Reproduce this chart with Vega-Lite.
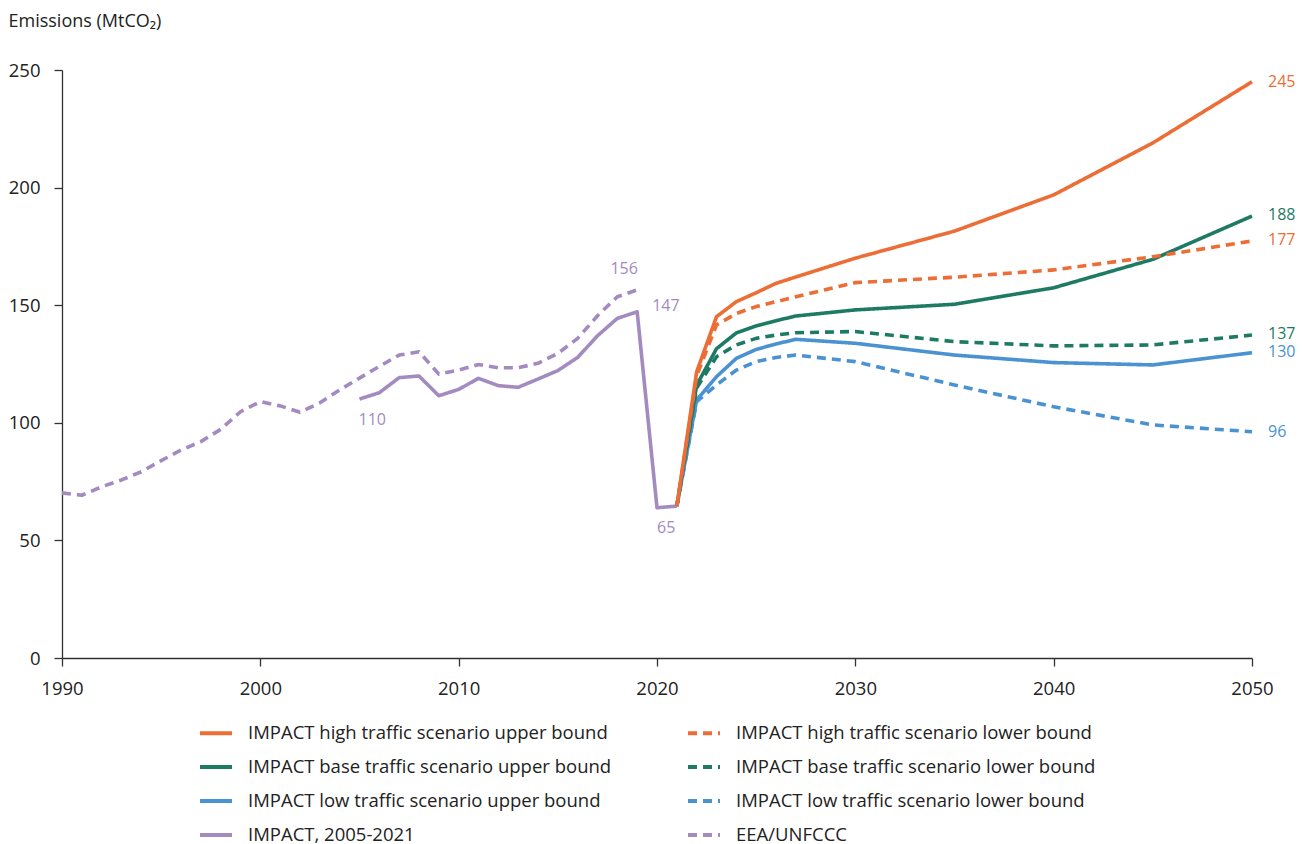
{
  "$schema": "https://vega.github.io/schema/vega-lite/v6.json",
  "width": 1190,
  "height": 588,
  "autosize": "none",
  "padding": {"left": 62, "top": 70, "right": 52, "bottom": 186},
  "background": "white",
  "config": {
    "font": "Open Sans",
    "view": {"stroke": null},
    "axis": {"grid": false, "domainColor": "#333333", "tickColor": "#333333", "labelColor": "#222222", "labelFontSize": 18.5, "labelFont": "Open Sans", "domainWidth": 1.3, "tickWidth": 1.3}
  },
  "datasets": {
    "lines": [
      {"series": "EEA/UNFCCC", "year": 1990, "value": 70.2},
      {"series": "EEA/UNFCCC", "year": 1991, "value": 69.2},
      {"series": "EEA/UNFCCC", "year": 1992, "value": 72.8},
      {"series": "EEA/UNFCCC", "year": 1993, "value": 75.7},
      {"series": "EEA/UNFCCC", "year": 1994, "value": 79.2},
      {"series": "EEA/UNFCCC", "year": 1995, "value": 83.9},
      {"series": "EEA/UNFCCC", "year": 1996, "value": 88.4},
      {"series": "EEA/UNFCCC", "year": 1997, "value": 92},
      {"series": "EEA/UNFCCC", "year": 1998, "value": 97.2},
      {"series": "EEA/UNFCCC", "year": 1999, "value": 104.7},
      {"series": "EEA/UNFCCC", "year": 2000, "value": 109},
      {"series": "EEA/UNFCCC", "year": 2001, "value": 107.2},
      {"series": "EEA/UNFCCC", "year": 2002, "value": 104.5},
      {"series": "EEA/UNFCCC", "year": 2003, "value": 108.5},
      {"series": "EEA/UNFCCC", "year": 2004, "value": 114},
      {"series": "EEA/UNFCCC", "year": 2005, "value": 119},
      {"series": "EEA/UNFCCC", "year": 2006, "value": 124},
      {"series": "EEA/UNFCCC", "year": 2007, "value": 128.8},
      {"series": "EEA/UNFCCC", "year": 2008, "value": 130.2},
      {"series": "EEA/UNFCCC", "year": 2009, "value": 120.7},
      {"series": "EEA/UNFCCC", "year": 2010, "value": 122.4},
      {"series": "EEA/UNFCCC", "year": 2011, "value": 124.8},
      {"series": "EEA/UNFCCC", "year": 2012, "value": 123.4},
      {"series": "EEA/UNFCCC", "year": 2013, "value": 123.4},
      {"series": "EEA/UNFCCC", "year": 2014, "value": 125.3},
      {"series": "EEA/UNFCCC", "year": 2015, "value": 129.5},
      {"series": "EEA/UNFCCC", "year": 2016, "value": 135.9},
      {"series": "EEA/UNFCCC", "year": 2017, "value": 145.5},
      {"series": "EEA/UNFCCC", "year": 2018, "value": 153.6},
      {"series": "EEA/UNFCCC", "year": 2019, "value": 156.5},
      {"series": "IMPACT, 2005-2021", "year": 2005, "value": 110.1},
      {"series": "IMPACT, 2005-2021", "year": 2006, "value": 112.8},
      {"series": "IMPACT, 2005-2021", "year": 2007, "value": 119.2},
      {"series": "IMPACT, 2005-2021", "year": 2008, "value": 119.9},
      {"series": "IMPACT, 2005-2021", "year": 2009, "value": 111.5},
      {"series": "IMPACT, 2005-2021", "year": 2010, "value": 114.2},
      {"series": "IMPACT, 2005-2021", "year": 2011, "value": 118.9},
      {"series": "IMPACT, 2005-2021", "year": 2012, "value": 115.8},
      {"series": "IMPACT, 2005-2021", "year": 2013, "value": 115.1},
      {"series": "IMPACT, 2005-2021", "year": 2014, "value": 118.6},
      {"series": "IMPACT, 2005-2021", "year": 2015, "value": 122.2},
      {"series": "IMPACT, 2005-2021", "year": 2016, "value": 127.8},
      {"series": "IMPACT, 2005-2021", "year": 2017, "value": 137},
      {"series": "IMPACT, 2005-2021", "year": 2018, "value": 144.4},
      {"series": "IMPACT, 2005-2021", "year": 2019, "value": 147.2},
      {"series": "IMPACT, 2005-2021", "year": 2020, "value": 63.9},
      {"series": "IMPACT, 2005-2021", "year": 2021, "value": 64.6},
      {"series": "IMPACT low traffic scenario lower bound", "year": 2021, "value": 64.6},
      {"series": "IMPACT low traffic scenario lower bound", "year": 2022, "value": 109},
      {"series": "IMPACT low traffic scenario lower bound", "year": 2023, "value": 116.1},
      {"series": "IMPACT low traffic scenario lower bound", "year": 2024, "value": 122.4},
      {"series": "IMPACT low traffic scenario lower bound", "year": 2025, "value": 126},
      {"series": "IMPACT low traffic scenario lower bound", "year": 2026, "value": 127.8},
      {"series": "IMPACT low traffic scenario lower bound", "year": 2027, "value": 128.8},
      {"series": "IMPACT low traffic scenario lower bound", "year": 2030, "value": 126},
      {"series": "IMPACT low traffic scenario lower bound", "year": 2035, "value": 116.1},
      {"series": "IMPACT low traffic scenario lower bound", "year": 2040, "value": 106.8},
      {"series": "IMPACT low traffic scenario lower bound", "year": 2045, "value": 99.1},
      {"series": "IMPACT low traffic scenario lower bound", "year": 2050, "value": 96.2},
      {"series": "IMPACT low traffic scenario upper bound", "year": 2021, "value": 64.6},
      {"series": "IMPACT low traffic scenario upper bound", "year": 2022, "value": 109.7},
      {"series": "IMPACT low traffic scenario upper bound", "year": 2023, "value": 119.6},
      {"series": "IMPACT low traffic scenario upper bound", "year": 2024, "value": 127.4},
      {"series": "IMPACT low traffic scenario upper bound", "year": 2025, "value": 131.2},
      {"series": "IMPACT low traffic scenario upper bound", "year": 2026, "value": 133.5},
      {"series": "IMPACT low traffic scenario upper bound", "year": 2027, "value": 135.5},
      {"series": "IMPACT low traffic scenario upper bound", "year": 2030, "value": 133.8},
      {"series": "IMPACT low traffic scenario upper bound", "year": 2035, "value": 128.8},
      {"series": "IMPACT low traffic scenario upper bound", "year": 2040, "value": 125.6},
      {"series": "IMPACT low traffic scenario upper bound", "year": 2045, "value": 124.6},
      {"series": "IMPACT low traffic scenario upper bound", "year": 2050, "value": 129.8},
      {"series": "IMPACT  base traffic scenario lower bound", "year": 2021, "value": 64.6},
      {"series": "IMPACT  base traffic scenario lower bound", "year": 2022, "value": 114.8},
      {"series": "IMPACT  base traffic scenario lower bound", "year": 2023, "value": 128.1},
      {"series": "IMPACT  base traffic scenario lower bound", "year": 2024, "value": 133.1},
      {"series": "IMPACT  base traffic scenario lower bound", "year": 2025, "value": 135.9},
      {"series": "IMPACT  base traffic scenario lower bound", "year": 2026, "value": 137.3},
      {"series": "IMPACT  base traffic scenario lower bound", "year": 2027, "value": 138.3},
      {"series": "IMPACT  base traffic scenario lower bound", "year": 2030, "value": 138.8},
      {"series": "IMPACT  base traffic scenario lower bound", "year": 2035, "value": 134.5},
      {"series": "IMPACT  base traffic scenario lower bound", "year": 2040, "value": 132.7},
      {"series": "IMPACT  base traffic scenario lower bound", "year": 2045, "value": 133.1},
      {"series": "IMPACT  base traffic scenario lower bound", "year": 2050, "value": 137.3},
      {"series": "IMPACT base traffic scenario upper bound", "year": 2021, "value": 64.6},
      {"series": "IMPACT base traffic scenario upper bound", "year": 2022, "value": 116},
      {"series": "IMPACT base traffic scenario upper bound", "year": 2023, "value": 131.5},
      {"series": "IMPACT base traffic scenario upper bound", "year": 2024, "value": 138.2},
      {"series": "IMPACT base traffic scenario upper bound", "year": 2025, "value": 141.2},
      {"series": "IMPACT base traffic scenario upper bound", "year": 2026, "value": 143.4},
      {"series": "IMPACT base traffic scenario upper bound", "year": 2027, "value": 145.4},
      {"series": "IMPACT base traffic scenario upper bound", "year": 2030, "value": 148},
      {"series": "IMPACT base traffic scenario upper bound", "year": 2035, "value": 150.4},
      {"series": "IMPACT base traffic scenario upper bound", "year": 2040, "value": 157.4},
      {"series": "IMPACT base traffic scenario upper bound", "year": 2045, "value": 169.5},
      {"series": "IMPACT base traffic scenario upper bound", "year": 2050, "value": 187.9},
      {"series": "IMPACT high traffic scenario lower bound", "year": 2021, "value": 64.6},
      {"series": "IMPACT high traffic scenario lower bound", "year": 2022, "value": 120},
      {"series": "IMPACT high traffic scenario lower bound", "year": 2023, "value": 141.6},
      {"series": "IMPACT high traffic scenario lower bound", "year": 2024, "value": 146.5},
      {"series": "IMPACT high traffic scenario lower bound", "year": 2025, "value": 149.4},
      {"series": "IMPACT high traffic scenario lower bound", "year": 2026, "value": 151.5},
      {"series": "IMPACT high traffic scenario lower bound", "year": 2027, "value": 153.6},
      {"series": "IMPACT high traffic scenario lower bound", "year": 2030, "value": 159.6},
      {"series": "IMPACT high traffic scenario lower bound", "year": 2035, "value": 161.9},
      {"series": "IMPACT high traffic scenario lower bound", "year": 2040, "value": 165},
      {"series": "IMPACT high traffic scenario lower bound", "year": 2045, "value": 170.6},
      {"series": "IMPACT high traffic scenario lower bound", "year": 2050, "value": 177.3},
      {"series": "IMPACT high traffic scenario upper bound", "year": 2021, "value": 64.6},
      {"series": "IMPACT high traffic scenario upper bound", "year": 2022, "value": 121.7},
      {"series": "IMPACT high traffic scenario upper bound", "year": 2023, "value": 145.1},
      {"series": "IMPACT high traffic scenario upper bound", "year": 2024, "value": 151.5},
      {"series": "IMPACT high traffic scenario upper bound", "year": 2025, "value": 155.3},
      {"series": "IMPACT high traffic scenario upper bound", "year": 2026, "value": 159.3},
      {"series": "IMPACT high traffic scenario upper bound", "year": 2027, "value": 162},
      {"series": "IMPACT high traffic scenario upper bound", "year": 2030, "value": 170},
      {"series": "IMPACT high traffic scenario upper bound", "year": 2035, "value": 181.5},
      {"series": "IMPACT high traffic scenario upper bound", "year": 2040, "value": 196.9},
      {"series": "IMPACT high traffic scenario upper bound", "year": 2045, "value": 219},
      {"series": "IMPACT high traffic scenario upper bound", "year": 2050, "value": 245}
    ],
    "endLabels": [
      {"series": "IMPACT high traffic scenario upper bound", "year": 2050, "value": 245, "label": "245"},
      {"series": "IMPACT base traffic scenario upper bound", "year": 2050, "value": 188.4, "label": "188"},
      {"series": "IMPACT high traffic scenario lower bound", "year": 2050, "value": 177.8, "label": "177"},
      {"series": "IMPACT  base traffic scenario lower bound", "year": 2050, "value": 137.8, "label": "137"},
      {"series": "IMPACT low traffic scenario upper bound", "year": 2050, "value": 130, "label": "130"},
      {"series": "IMPACT low traffic scenario lower bound", "year": 2050, "value": 96, "label": "96"}
    ],
    "histLabels": [
      {"kind": "start", "year": 2005, "value": 110.1, "label": "110"},
      {"kind": "peakEEA", "year": 2019, "value": 156.5, "label": "156"},
      {"kind": "peakIMPACT", "year": 2019, "value": 147.2, "label": "147"},
      {"kind": "low", "year": 2020, "value": 63.9, "label": "65"}
    ]
  },
  "layer": [
    {
      "data": {"name": "lines"},
      "mark": {"type": "line", "strokeWidth": 3.6, "strokeJoin": "round"},
      "encoding": {
        "x": {"field": "year", "type": "quantitative", "scale": {"domain": [1990, 2050], "nice": false, "zero": false},
          "axis": {"title": null, "values": [1990, 2000, 2010, 2020, 2030, 2040, 2050], "format": "d", "tickSize": 8, "labelPadding": 13, "labelFlush": false}},
        "y": {"field": "value", "type": "quantitative", "scale": {"domain": [0, 250], "nice": false},
          "axis": {"title": "Emissions (MtCO₂)", "titleAngle": 0, "titleAlign": "left", "titleBaseline": "alphabetic", "titleX": -54, "titleY": -44, "titleFontSize": 18, "titleFontWeight": "normal", "titleColor": "#222222", "titleFont": "Open Sans", "values": [0, 50, 100, 150, 200, 250], "tickSize": 8, "labelPadding": 14, "labelFlush": false}},
        "color": {"field": "series", "type": "nominal",
          "scale": {"domain": ["IMPACT high traffic scenario upper bound", "IMPACT base traffic scenario upper bound", "IMPACT low traffic scenario upper bound", "IMPACT, 2005-2021", "IMPACT high traffic scenario lower bound", "IMPACT  base traffic scenario lower bound", "IMPACT low traffic scenario lower bound", "EEA/UNFCCC"],
            "range": ["#EC6D35", "#1E7B63", "#4A92D2", "#A38BC0", "#EC6D35", "#1E7B63", "#4A92D2", "#A38BC0"]},
          "legend": {"title": null, "orient": "none", "legendX": 136, "legendY": 645, "columns": 2, "columnPadding": 68, "rowPadding": 6, "padding": 0,
            "symbolType": "stroke", "symbolSize": 1024, "symbolStrokeWidth": 4, "labelFontSize": 18.5, "labelColor": "#222222", "labelFont": "Open Sans", "labelOffset": 14, "labelLimit": 600}},
        "strokeDash": {"field": "series", "type": "nominal",
          "scale": {"domain": ["IMPACT high traffic scenario upper bound", "IMPACT base traffic scenario upper bound", "IMPACT low traffic scenario upper bound", "IMPACT, 2005-2021", "IMPACT high traffic scenario lower bound", "IMPACT  base traffic scenario lower bound", "IMPACT low traffic scenario lower bound", "EEA/UNFCCC"],
            "range": [[1, 0], [1, 0], [1, 0], [1, 0], [9, 6], [9, 6], [9, 6], [9, 6]]},
          "legend": {"title": null, "orient": "none", "legendX": 136, "legendY": 645, "columns": 2, "columnPadding": 68, "rowPadding": 6, "padding": 0,
            "symbolType": "stroke", "symbolSize": 1024, "symbolStrokeWidth": 4, "labelFontSize": 18.5, "labelColor": "#222222", "labelFont": "Open Sans", "labelOffset": 14, "labelLimit": 600}},
        "order": {"field": "year", "type": "quantitative"}
      }
    },
    {
      "data": {"name": "endLabels"},
      "mark": {"type": "text", "align": "left", "baseline": "middle", "dx": 16, "fontSize": 16, "font": "Open Sans"},
      "encoding": {
        "x": {"field": "year", "type": "quantitative"},
        "y": {"field": "value", "type": "quantitative"},
        "text": {"field": "label"},
        "color": {"field": "series", "type": "nominal", "legend": null}
      }
    },
    {
      "data": {"name": "histLabels"},
      "transform": [{"filter": "datum.kind == 'start'"}],
      "mark": {"type": "text", "align": "left", "baseline": "middle", "dx": -1, "dy": 21, "fontSize": 16, "font": "Open Sans", "color": "#A38BC0"},
      "encoding": {"x": {"field": "year", "type": "quantitative"}, "y": {"field": "value", "type": "quantitative"}, "text": {"field": "label"}}
    },
    {
      "data": {"name": "histLabels"},
      "transform": [{"filter": "datum.kind == 'peakEEA'"}],
      "mark": {"type": "text", "align": "center", "baseline": "middle", "dx": -13, "dy": -21, "fontSize": 16, "font": "Open Sans", "color": "#A38BC0"},
      "encoding": {"x": {"field": "year", "type": "quantitative"}, "y": {"field": "value", "type": "quantitative"}, "text": {"field": "label"}}
    },
    {
      "data": {"name": "histLabels"},
      "transform": [{"filter": "datum.kind == 'peakIMPACT'"}],
      "mark": {"type": "text", "align": "left", "baseline": "middle", "dx": 15, "dy": -6, "fontSize": 16, "font": "Open Sans", "color": "#A38BC0"},
      "encoding": {"x": {"field": "year", "type": "quantitative"}, "y": {"field": "value", "type": "quantitative"}, "text": {"field": "label"}}
    },
    {
      "data": {"name": "histLabels"},
      "transform": [{"filter": "datum.kind == 'low'"}],
      "mark": {"type": "text", "align": "left", "baseline": "middle", "dx": 0, "dy": 20, "fontSize": 16, "font": "Open Sans", "color": "#A38BC0"},
      "encoding": {"x": {"field": "year", "type": "quantitative"}, "y": {"field": "value", "type": "quantitative"}, "text": {"field": "label"}}
    }
  ]
}
